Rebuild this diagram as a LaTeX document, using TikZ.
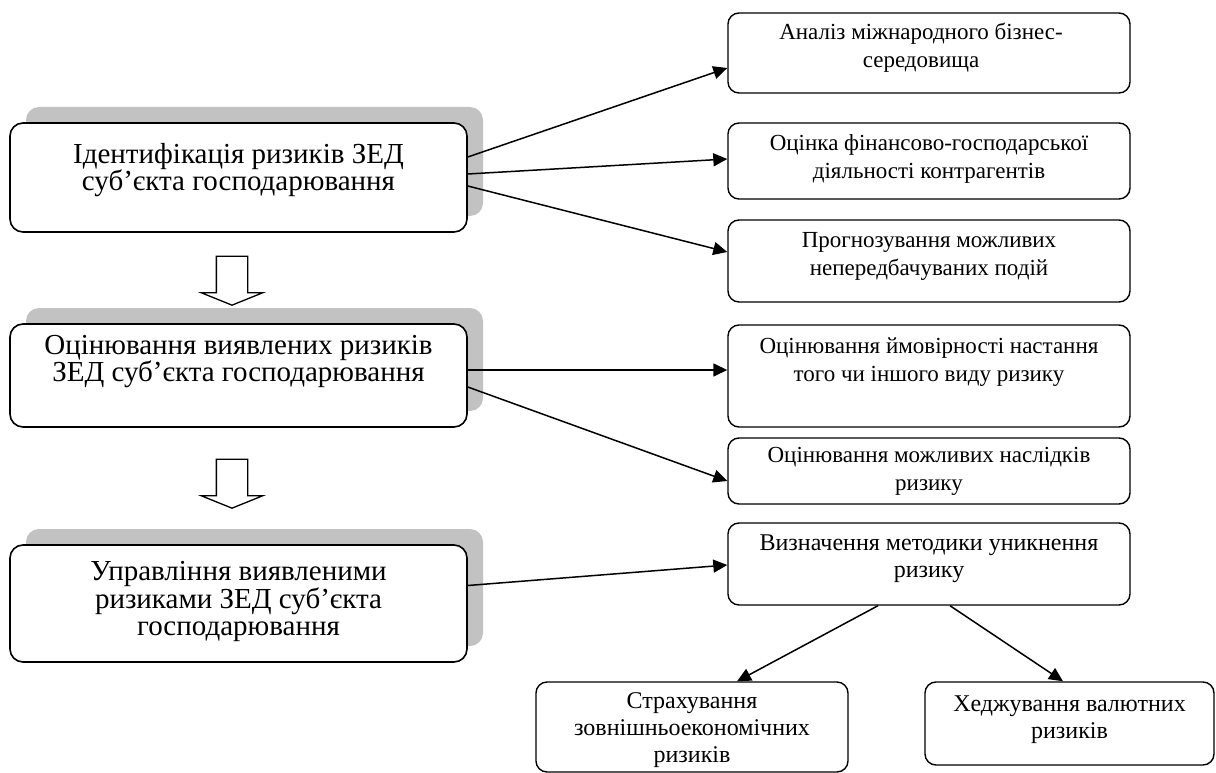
\documentclass[tikz,border=0pt]{standalone}
\usepackage{fontspec}
\setmainfont{Liberation Serif}
\usetikzlibrary{shapes,shapes.arrows,shadows,arrows.meta,calc}

\begin{document}
\begin{tikzpicture}[x=1pt, y=-1pt,
        every text node part/.style={align=center},
        stage/.style={rectangle, draw, fill=white, line width=1.6pt, rounded corners=13pt, minimum width=457pt,
            general shadow={fill=black!24, shadow xshift=16pt, shadow yshift=16pt}},
        stagetext/.style={font=\fontsize{29}{27.5}\selectfont},
        task/.style={rectangle, draw, fill=white, line width=1.4pt, rounded corners=11pt, minimum width=402pt},
        tasktext/.style={font=\fontsize{23}{28}\selectfont},
        leaf/.style={rectangle, draw, fill=white, line width=1.4pt, rounded corners=11pt},
        leaftext/.style={font=\fontsize{24}{27}\selectfont},
        arrow/.style={-{Triangle[length=14pt, width=13pt]}, line width=1.5pt},
        hollow/.style={single arrow, draw, fill=white, line width=1.3pt, rotate=-90, minimum height=49pt, minimum width=60pt,
            inner xsep=0pt, inner ysep=15pt, single arrow head extend=15pt, single arrow tip angle=136}]

    \useasboundingbox (0,0) rectangle (1216,773);

    % stages on the left
    \node[stage, minimum height=109pt, label={[stagetext, yshift=7.5pt]center:{Ідентифікація ризиків ЗЕД\\суб’єкта господарювання}}] (ident) at (238.5,177.5) {};
    \node[stage, minimum height=103pt, label={[stagetext, yshift=14pt]center:{Оцінювання виявлених ризиків\\ЗЕД суб’єкта господарювання}}] (assess) at (238.5,375.5) {};
    \node[stage, minimum height=117pt, label={[stagetext, yshift=2pt]center:{Управління виявленими\\ризиками ЗЕД суб’єкта\\господарювання}}] (manage) at (238.5,603.5) {};

    \node[hollow] (down1) at (232,277.5) {};
    \node[hollow] (down2) at (232,480.5) {};

    % tasks on the right
    \node[task, minimum height=80pt, label={[tasktext, yshift=5pt, xshift=-8pt]center:{Аналіз міжнародного бізнес-\\середовища}}] (analysis) at (929,53) {};
    \node[task, minimum height=76pt, label={[tasktext, yshift=2pt]center:{Оцінка фінансово-господарської\\діяльності контрагентів}}] (rating) at (929,161) {};
    \node[task, minimum height=82pt, label={[tasktext, yshift=5pt]center:{Прогнозування можливих\\непередбачуваних подій}}] (forecast) at (929,261) {};
    \node[task, minimum height=102pt, label={[tasktext, yshift=13.5pt]center:{Оцінювання ймовірності настання\\того чи іншого виду ризику}}] (chance) at (929,376) {};
    \node[task, minimum height=66pt, label={[tasktext]center:{Оцінювання можливих наслідків\\ризику}}] (impact) at (929,471) {};
    \node[task, minimum height=82pt, label={[leaftext, yshift=5pt]center:{Визначення методики уникнення\\ризику}}] (method) at (929,564) {};

    \node[leaf, minimum width=312pt, minimum height=90pt, label={[leaftext, yshift=-3pt]center:{Страхування\\зовнішньоекономічних\\ризиків}}] (insure) at (692,727) {};
    \node[leaf, minimum width=289pt, minimum height=83pt, label={[leaftext, yshift=4pt]center:{Хеджування валютних\\ризиків}}] (hedge) at (1069.5,723.5) {};

    \draw ($(ident.east)+(0,-20.5)$) edge [arrow] ($(analysis.west)+(0,15)$);
    \draw ($(ident.east)+(0,-3.5)$) edge [arrow] ($(rating.west)+(0,-2)$);
    \draw ($(ident.east)+(0,8.5)$) edge [arrow] ($(forecast.west)+(0,-9)$);
    \draw ($(assess.east)+(0,-5.5)$) edge [arrow] ($(chance.west)+(0,-6)$);
    \draw ($(assess.east)+(0,11.5)$) edge [arrow] ($(impact.west)+(0,10)$);
    \draw ($(manage.east)+(0,-18)$) edge [arrow] ($(method.west)+(0,1)$);
    \draw ($(method.south)+(-51,0)$) edge [arrow] ($(insure.north)+(45,0)$);
    \draw ($(method.south)+(21,0)$) edge [arrow] ($(hedge.north)+(-6.5,0)$);
\end{tikzpicture}
\end{document}
